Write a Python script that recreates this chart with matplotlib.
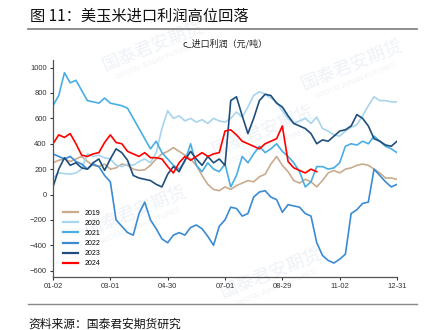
import matplotlib.pyplot as plt
from matplotlib.lines import Line2D
import numpy as np

# data: one value every 6 days, starting 01-02
ticks = ['01-02', '03-01', '04-30', '07-01', '08-29', '11-02', '12-31']
years = ['2019', '2020', '2021', '2022', '2023', '2024']
colors = ['#c9ab8e', '#a8d5ee', '#48aee2', '#3a8bd2', '#1f4e7c', '#ff0000']

y2019 = [250, 270, 280, 260, 280, 300, 260, 230, 220, 240, 200, 210, 240, 230, 200, 190,
         195, 230, 280, 320, 340, 370, 340, 310, 280, 230, 150, 80, 40, 30, 60, 40,
         70, 90, 110, 100, 140, 160, 240, 300, 230, 180, 110, 90, 120, 100, 60, 110,
         170, 190, 170, 200, 210, 230, 240, 230, 200, 170, 130, 130, 120]
y2020 = [130, 170, 165, 160, 170, 200, 320, 300, 310, 290, 280, 230, 220, 240, 230, 260,
         280, 250, 330, 520, 660, 600, 620, 580, 600, 570, 590, 560, 600, 580, 570, 600,
         650, 610, 690, 780, 810, 790, 760, 730, 660, 600, 560, 580, 600, 560, 610, 520,
         500, 470, 460, 500, 530, 550, 620, 700, 770, 740, 740, 730, 730]
y2021 = [700, 780, 960, 880, 900, 820, 740, 730, 720, 760, 720, 710, 700, 680, 600, 520,
         440, 360, 420, 330, 280, 230, 200, 260, 400, 230, 180, 250, 200, 180, 240, 60,
         150, 300, 250, 320, 380, 330, 360, 400, 340, 300, 250, 180, 60, 100, 220, 220,
         200, 210, 250, 380, 400, 390, 420, 400, 460, 420, 380, 360, 330]
y2022 = [320, 300, 280, 300, 260, 240, 200, 240, 220, 150, 100, -200, -250, -300, -320, -150,
         -60, -200, -270, -350, -380, -320, -300, -320, -260, -240, -270, -330, -400, -250, -200, -100,
         -110, -170, -150, -20, 20, 30, -20, -40, -140, -80, -90, -100, -150, -170, -380, -480,
         -520, -540, -510, -470, -150, -120, -70, -60, 200, 150, 100, 60, 80]
y2023 = [60, 200, 290, 230, 250, 210, 200, 250, 280, 190, 280, 360, 330, 270, 150, 130,
         120, 110, 80, 60, 160, 220, 180, 270, 340, 280, 230, 300, 250, 280, 230, 740,
         770, 620, 480, 600, 740, 790, 780, 720, 690, 620, 560, 540, 520, 480, 400, 430,
         420, 460, 500, 510, 540, 630, 600, 540, 440, 420, 390, 380, 420]
y2024 = [400, 470, 450, 480, 400, 310, 300, 320, 330, 410, 470, 410, 400, 340, 320, 300,
         330, 290, 290, 280, 220, 170, 250, 300, 270, 300, 330, 300, 320, 330, 500, 510,
         470, 420, 400, 380, 360, 400, 420, 440, 540, 260, 210, 190, 170, 200, 180]

series = [y2019, y2020, y2021, y2022, y2023, y2024]

cjk = ['Noto Sans CJK SC', 'DejaVu Sans']
plt.rcParams['font.family'] = ['Liberation Sans', 'DejaVu Sans']

fig = plt.figure(figsize=(4.24, 3.30), dpi=100)
ax = fig.add_axes([53 / 424, 1 - 277 / 330, 344 / 424, 217 / 330])

# faint watermarks, behind everything
for (wx, wy) in [(0.36, 0.86), (0.62, 0.60), (0.32, 0.36), (0.64, 0.17), (0.83, 0.80)]:
    fig.text(wx, wy, '国泰君安期货', family=cjk, fontsize=13, color='#eef2f7',
             rotation=22, ha='center', va='center', zorder=-5)
    fig.text(wx + 0.01, wy - 0.045, 'GUOTAI JUNAN FUTURES', fontsize=5, color='#eef2f7',
             rotation=22, ha='center', va='center', zorder=-5)

for vals, name, c in zip(series, years, colors):
    x = np.arange(len(vals)) * 6
    ax.plot(x, vals, color=c, lw=1.2, label=name)

ax.set_xlim(0, 360)
ax.set_ylim(-650, 1060)
ax.set_xticks(np.arange(0, 361, 60))
ax.set_xticklabels(ticks)
ax.set_yticks(np.arange(-600, 1001, 200))
ax.tick_params(labelsize=5.5, length=2.5, width=0.8, colors='#333333', pad=2)
for s in ['top', 'right']:
    ax.spines[s].set_visible(False)
for s in ['left', 'bottom']:
    ax.spines[s].set_color('#555555')
    ax.spines[s].set_linewidth(0.9)
ax.patch.set_alpha(0)

ax.set_title('c_进口利润（元/吨）', family=cjk, fontsize=6.5, pad=10, color='#222222')

leg = ax.legend(loc='lower left', bbox_to_anchor=(0.0, 0.0), frameon=False, fontsize=5,
                handlelength=2.2, labelspacing=0.45, handletextpad=1.0, borderaxespad=1.0)
for h in leg.get_lines():
    h.set_linewidth(1.6)

fig.text(30 / 424, 1 - 16 / 330, '图 11：美玉米进口利润高位回落', family=cjk, fontsize=11,
         va='center', ha='left', color='#111111')
fig.add_artist(Line2D([28 / 424, 417 / 424], [1 - 29 / 330] * 2, color='#888888', lw=1.3))
fig.add_artist(Line2D([28 / 424, 417 / 424], [1 - 304 / 330] * 2, color='#888888', lw=1.0))
fig.text(28 / 424, 1 - 324 / 330, '资料来源：国泰君安期货研究', family=cjk, fontsize=8.5,
         va='center', ha='left', color='#111111')

fig.savefig('out.png', dpi=100)
